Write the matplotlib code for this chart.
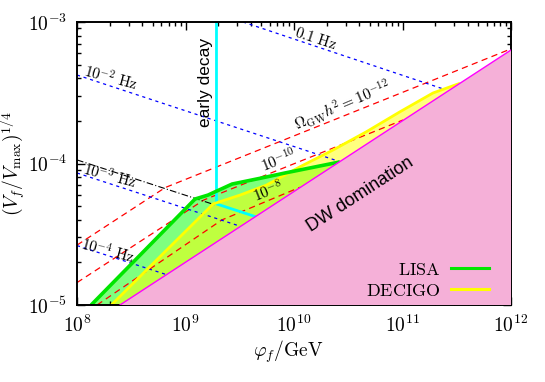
import numpy as np
import matplotlib
matplotlib.use("Agg")
import matplotlib.pyplot as plt
from matplotlib.ticker import LogLocator, NullFormatter, FuncFormatter
from matplotlib.lines import Line2D

plt.rcParams['mathtext.fontset'] = 'cm'
plt.rcParams['font.family'] = 'DejaVu Serif'

# DW domination boundary (magenta line)
dw_x = [1e8, 1e12]
dw_y = [6.34e-6, 6.34e-4]

# sensitivity regions (upper edges)
lisa_x = [1.35e8, 1.225e9, 1.61e9, 2.69e9, 5.07e9, 8.26e9, 2.65e10]
lisa_y = [1.0e-5, 5.61e-5, 5.98e-5, 7.16e-5, 7.91e-5, 8.57e-5, 1.026e-4]
decigo_x = [2.07e8, 1.80e9, 3.18e9, 5.60e9, 1.135e10, 2.29e10, 4.67e10, 9.48e10, 1.91e11, 3.39e11]
decigo_y = [1.0e-5, 5.18e-5, 5.98e-5, 7.05e-5, 9.48e-5, 1.245e-4, 1.68e-4, 2.32e-4, 3.15e-4, 3.69e-4]

# Omega_GW h^2 contours
om12_x = [1e8, 6.5e8, 1e12]
om12_y = [2.65e-5, 6.76e-5, 6.46e-4]
om10_x = [1e8, 1.48e9, 1.01e11]
om10_y = [1.44e-5, 5.53e-5, 2.03e-4]
om8_x = [1.53e8, 2.16e9, 1.135e10]
om8_y = [1.0e-5, 3.99e-5, 6.79e-5]

# frequency contours
f1_x = [3.39e9, 2.36e11]      # 0.1 Hz
f1_y = [1e-3, 3.37e-4]
f2_x = [1e8, 2.65e10]         # 1e-2 Hz
f2_y = [4.22e-4, 1.03e-4]
f3_x = [1e8, 3.2e9]           # 1e-3 Hz
f3_y = [8.57e-5, 3.6e-5]
f4_x = [1e8, 6.67e8]          # 1e-4 Hz
f4_y = [2.63e-5, 1.64e-5]

# black dash-dot line
bd_x = [1e8, 1.9e9]
bd_y = [1.06e-4, 5.08e-5]

# early decay boundary
ed_x = [1.93e9, 1.93e9, 4.38e9]
ed_y = [1e-3, 5.18e-5, 4.22e-5]


def dw_line(x):
    """y of the DW domination boundary at x (straight line in log-log)"""
    return 10**np.interp(np.log10(x), np.log10(dw_x), np.log10(dw_y))


def region(cx, cy):
    """polygon between an upper curve and the DW boundary"""
    px = list(cx) + [dw_x[0]]
    py = list(cy) + [dw_line(dw_x[0])]
    return px, py


fig = plt.figure(figsize=(5.45, 3.82), dpi=100)
ax = fig.add_axes([77/545, 77/382, 434/545, 283/382])
ax.set_xscale('log')
ax.set_yscale('log')
ax.set_xlim(1e8, 1e12)
ax.set_ylim(1e-5, 1e-3)

# filled sensitivity regions
lx, ly = region(lisa_x, lisa_y)
ax.fill(lx, ly, color='#00ff00', alpha=0.5, lw=0, zorder=1)
dx, dy = region(decigo_x, decigo_y)
ax.fill(dx, dy, color='#ffff00', alpha=0.5, lw=0, zorder=1)

# contour lines
for x, y in [(om12_x, om12_y), (om10_x, om10_y), (om8_x, om8_y)]:
    ax.plot(x, y, color='#ff0000', lw=0.9, dashes=(5, 3.5), zorder=2)
for x, y in [(f1_x, f1_y), (f2_x, f2_y), (f3_x, f3_y), (f4_x, f4_y)]:
    ax.plot(x, y, color='#0000ff', lw=0.9, dashes=(2.5, 3), zorder=2)
ax.plot(bd_x, bd_y, color='black', lw=0.8, dashes=(6, 2, 1, 2), zorder=2)
ax.plot(ed_x, ed_y, color='#00ffff', lw=2, zorder=2)

ax.plot(lisa_x, lisa_y, color='#00e600', lw=2.6, zorder=2.5, solid_capstyle='butt')
ax.plot(decigo_x, decigo_y, color='#ffff00', lw=2, zorder=2.4, solid_capstyle='butt')

# DW domination region
ax.fill_between(dw_x, dw_y, 1e-7, color='#f5b0d8', lw=0, zorder=3)
ax.plot(dw_x, dw_y, color='#ff00ff', lw=1, zorder=3)

# labels in the plot
lab = dict(transform=ax.transAxes, ha='center', va='center', fontsize=11, zorder=4)
ax.text(0.078, 0.802, r'$10^{-2}\ \mathrm{Hz}$', rotation=-15, **lab)
ax.text(0.076, 0.456, r'$10^{-3}\ \mathrm{Hz}$', rotation=-15, **lab)
ax.text(0.071, 0.191, r'$10^{-4}\ \mathrm{Hz}$', rotation=-15, **lab)
ax.text(0.551, 0.940, r'$0.1\ \mathrm{Hz}$', rotation=-18, **lab)
ax.text(0.611, 0.707, r'$\Omega_{\rm GW}h^2 = 10^{-12}$', rotation=23, **lab)
ax.text(0.465, 0.512, r'$10^{-10}$', rotation=22, **lab)
ax.text(0.442, 0.403, r'$10^{-8}$', rotation=22, **lab)
ax.text(0.296, 0.788, 'early decay', rotation=90, transform=ax.transAxes, ha='center',
        va='center', fontsize=12.5, family='Liberation Sans', zorder=4)
ax.text(0.652, 0.389, 'DW domination', rotation=33, transform=ax.transAxes, ha='center',
        va='center', fontsize=13, family='Liberation Sans', zorder=4)

# legend
handles = [Line2D([], [], color='#00e600', lw=2.2), Line2D([], [], color='#ffff00', lw=2.2)]
ax.legend(handles, [r'$\mathrm{LISA}$', r'$\mathrm{DECIGO}$'], loc='lower right',
          bbox_to_anchor=(0.987, -0.038), frameon=False, markerfirst=False, fontsize=13,
          handlelength=2.1, handletextpad=0.6, labelspacing=0.15).set_zorder(5)

# axes and ticks
fmt = FuncFormatter(lambda v, p: r'$10^{%d}$' % round(np.log10(v)))
for axis in (ax.xaxis, ax.yaxis):
    axis.set_major_locator(LogLocator(base=10, numticks=10))
    axis.set_minor_locator(LogLocator(base=10, subs=np.arange(2, 10), numticks=10))
    axis.set_minor_formatter(NullFormatter())
    axis.set_major_formatter(fmt)
ax.tick_params(which='both', direction='in', top=True, right=True, labelsize=14, width=1)
ax.tick_params(which='major', length=6, pad=7)
ax.tick_params(which='minor', length=3.2)
for s in ax.spines.values():
    s.set_linewidth(1.4)

ax.set_xlabel(r'$\varphi_f/\mathrm{GeV}$', fontsize=14)
ax.xaxis.set_label_coords(0.486, -0.12)
ax.set_ylabel(r'$(V_f/V_{\rm max})^{1/4}$', fontsize=14)
ax.yaxis.set_label_coords(-0.112, 0.5)

fig.savefig('out.png', dpi=100)
